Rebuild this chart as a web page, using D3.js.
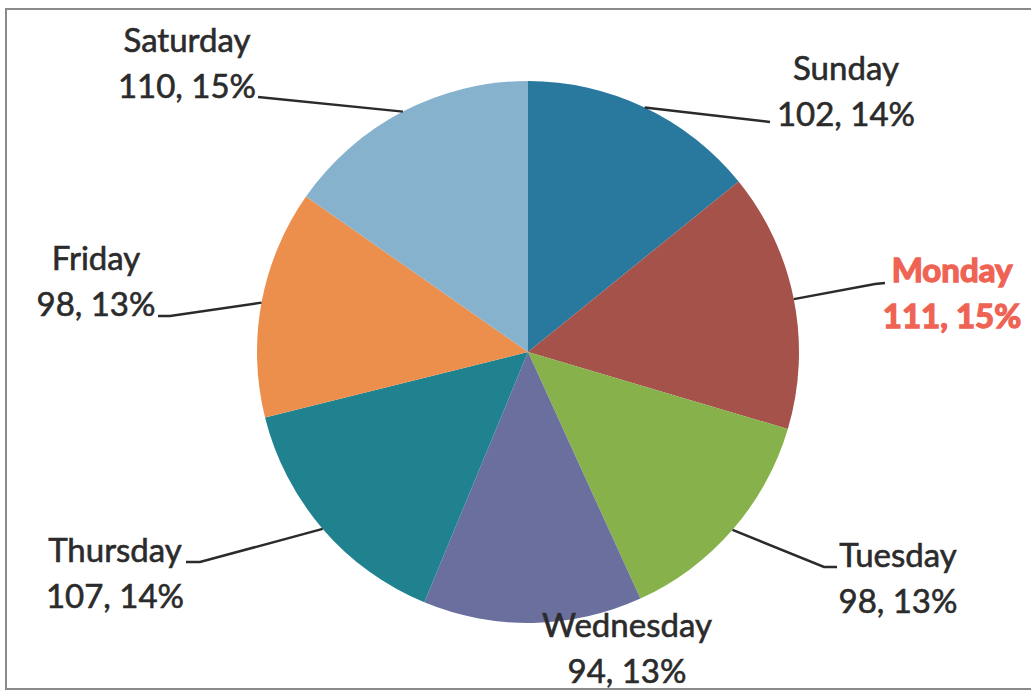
<!DOCTYPE html>
<html>
<head>
<meta charset="utf-8">
<script src="https://cdn.jsdelivr.net/npm/d3@7/dist/d3.min.js"></script>
<style>
  html, body { margin: 0; padding: 0; background: #fff; }
  svg { display: block; }
</style>
</head>
<body>
<svg id="chart" width="1031" height="692"></svg>
<script>
// Visits per day of week
const days = ["Sunday", "Monday", "Tuesday", "Wednesday", "Thursday", "Friday", "Saturday"];
const counts = [102, 111, 98, 94, 107, 98, 110];
const percentLabels = ["14%", "15%", "13%", "13%", "14%", "13%", "15%"];

const sliceColors = ["#29789d", "#a5524a", "#86b14b", "#6a6f9e", "#21828f", "#ec8e4c", "#87b2cd"];
const textColor = "#2b2b2b";
const highlightDay = "Monday";
const highlightColor = "#ef6354";

// Layout
const width = 1031, height = 692;
const cx = 528, cy = 352, radius = 271;

// Label anchor (center x, baseline of the first line) and leader path bends
const labelLayout = {
  Sunday:    { x: 846, y: 80,  leader: [[770, 122]] },
  Monday:    { x: 952, y: 282, leader: [[875, 284], [885, 283]] },
  Tuesday:   { x: 898, y: 567, leader: [[824, 567], [837, 567]] },
  Wednesday: { x: 627, y: 637, leader: null },
  Thursday:  { x: 115, y: 562, leader: [[200, 562], [186, 562]] },
  Friday:    { x: 96,  y: 270, leader: [[170, 316], [158, 316]] },
  Saturday:  { x: 187, y: 52,  leader: [[258, 97]] }
};

const svg = d3.select("#chart");

// Outer frame
svg.append("rect")
  .attr("x", 6).attr("y", 9)
  .attr("width", 1040).attr("height", 680)
  .attr("fill", "none")
  .attr("stroke", "#8a8a8a")
  .attr("stroke-width", 2);

const data = days.map((d, i) => ({ day: d, value: counts[i], pct: percentLabels[i], color: sliceColors[i] }));

const pie = d3.pie().value(d => d.value).sort(null);
const arcs = pie(data);
const arc = d3.arc().innerRadius(0).outerRadius(radius);

const g = svg.append("g").attr("transform", `translate(${cx},${cy})`);

g.selectAll("path.slice")
  .data(arcs)
  .join("path")
  .attr("class", "slice")
  .attr("d", arc)
  .attr("fill", d => d.data.color);

// Leader lines from the slice edge at its mid-angle to the label
const line = d3.line();
arcs.forEach(a => {
  const lay = labelLayout[a.data.day];
  if (!lay.leader) return;
  const mid = (a.startAngle + a.endAngle) / 2;
  const start = [cx + radius * Math.sin(mid), cy - radius * Math.cos(mid)];
  svg.append("path")
    .attr("d", line([start, ...lay.leader]))
    .attr("fill", "none")
    .attr("stroke", "#2b2b2b")
    .attr("stroke-width", 2.5);
});

// Labels: name on the first line, "count, percent" on the second
const labels = svg.append("g")
  .attr("font-family", "Lato, 'Open Sans', sans-serif")
  .attr("font-size", 33)
  .attr("text-anchor", "middle");

arcs.forEach(a => {
  const d = a.data;
  const lay = labelLayout[d.day];
  const hl = d.day === highlightDay;
  const fill = hl ? highlightColor : textColor;
  const t = labels.append("text")
    .attr("x", lay.x)
    .attr("y", lay.y)
    .attr("fill", fill)
    .attr("stroke", fill)
    .attr("stroke-width", hl ? 1.4 : 0.6)
    .attr("font-weight", hl ? "bold" : "normal");
  t.append("tspan").attr("x", lay.x).attr("dy", 0).text(d.day);
  t.append("tspan").attr("x", lay.x).attr("dy", 46).text(`${d.value}, ${d.pct}`);
});
</script>
</body>
</html>
